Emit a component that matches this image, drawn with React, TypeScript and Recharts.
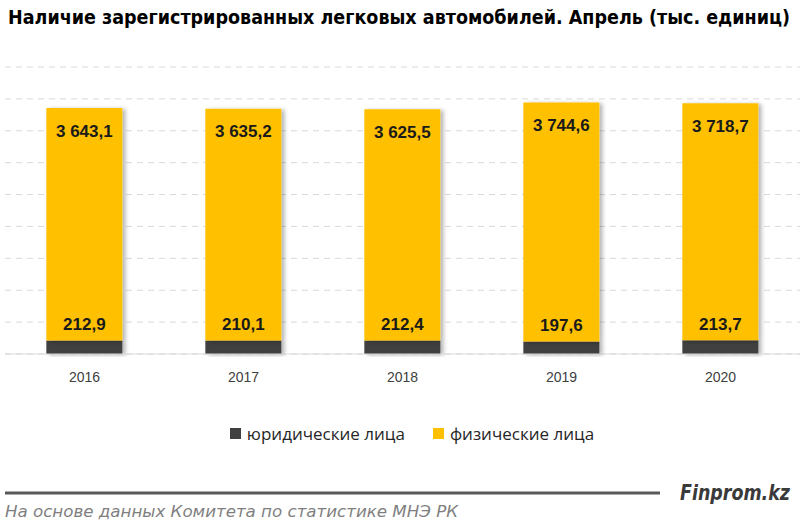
import { BarChart, Bar, XAxis, YAxis, CartesianGrid, LabelList } from "recharts";

// Years on the x axis
const years = ["2016", "2017", "2018", "2019", "2020"];
// Thousand units, April of each year
const legalEntities = [212.9, 210.1, 212.4, 197.6, 213.7];
const individuals = [3643.1, 3635.2, 3625.5, 3744.6, 3718.7];
const yTicks = [0, 500, 1000, 1500, 2000, 2500, 3000, 3500, 4000, 4500];

const DARK = "#404040";
const YELLOW = "#FFC000";
const FONT = "'Liberation Sans', Arial, sans-serif";
const NARROW = "'Liberation Sans Narrow', 'DejaVu Sans Condensed', sans-serif";

const data = years.map((year, i) => ({
  year,
  legal: legalEntities[i],
  individual: individuals[i],
}));

// 3643.1 -> "3 643,1"
function fmt(v: number) {
  const [int, dec] = v.toFixed(1).split(".");
  return int.replace(/\B(?=(\d{3})+(?!\d))/g, " ") + "," + dec;
}

// label for the thin dark segment sits just above it, inside the yellow bar
function LegalLabel(props: any) {
  const { x, y, width, value } = props;
  return (
    <text x={x + width / 2} y={y - 16} textAnchor="middle" dominantBaseline="central"
      fontFamily={FONT} fontWeight="bold" fontSize={17} fill="#1a1a1a">
      {fmt(value)}
    </text>
  );
}

function IndividualLabel(props: any) {
  const { x, y, width, value } = props;
  return (
    <text x={x + width / 2} y={y + 23} textAnchor="middle" dominantBaseline="central"
      fontFamily={FONT} fontWeight="bold" fontSize={17} fill="#1a1a1a">
      {fmt(value)}
    </text>
  );
}

const legendItems = [
  { label: "юридические лица", color: DARK },
  { label: "физические лица", color: YELLOW },
];

export default function App() {
  return (
    <div style={{ position: "absolute", left: 0, top: 0, width: 800, height: 527, background: "#fff", overflow: "hidden" }}>
      <svg width={800} height={40} style={{ position: "absolute", left: 0, top: 0 }}>
        <text x={8} y={24} textLength={782} lengthAdjust="spacingAndGlyphs"
          fontFamily={NARROW} fontWeight="bold" fontSize={19} fill="#000">
          Наличие зарегистрированных легковых автомобилей. Апрель (тыс. единиц)
        </text>
      </svg>

      <div style={{ position: "absolute", left: 0, top: 0 }}>
        <BarChart width={800} height={400} data={data} barCategoryGap="26%"
          margin={{ top: 67, right: 0, bottom: 16, left: 5 }}>
          <defs>
            <filter id="barShadow" x="-10%" y="-10%" width="130%" height="130%">
              <feDropShadow dx={3} dy={1} stdDeviation={2} floodColor="#000" floodOpacity={0.3} />
            </filter>
          </defs>
          <CartesianGrid vertical={false} stroke="#d9d9d9" strokeDasharray="6 5" />
          <YAxis hide domain={[0, 4500]} ticks={yTicks} />
          <XAxis dataKey="year" axisLine={{ stroke: "#d9d9d9" }} tickLine={false}
            tick={{ fontFamily: FONT, fontSize: 14, fill: "#404040" }} tickMargin={12} />
          <Bar dataKey="legal" stackId="a" fill={DARK} isAnimationActive={false} style={{ filter: "url(#barShadow)" }}>
            <LabelList dataKey="legal" content={<LegalLabel />} />
          </Bar>
          <Bar dataKey="individual" stackId="a" fill={YELLOW} isAnimationActive={false} style={{ filter: "url(#barShadow)" }}>
            <LabelList dataKey="individual" content={<IndividualLabel />} />
          </Bar>
        </BarChart>
      </div>

      <div style={{ position: "absolute", left: 12, top: 422, width: 800, display: "flex", justifyContent: "center", gap: 28,
        fontFamily: "'Open Sans', sans-serif", fontSize: 17, color: "#262626" }}>
        {legendItems.map((it) => (
          <div key={it.label} style={{ display: "flex", alignItems: "center", gap: 6 }}>
            <span style={{ width: 11, height: 11, background: it.color, display: "inline-block" }} />
            <span>{it.label}</span>
          </div>
        ))}
      </div>

      <svg width={800} height={60} style={{ position: "absolute", left: 0, top: 470 }}>
        <line x1={5} x2={660} y1={23} y2={23} stroke="#595959" strokeWidth={3} />
        <text x={680} y={30} textLength={110} lengthAdjust="spacingAndGlyphs"
          fontFamily={NARROW} fontStyle="italic" fontWeight="bold" fontSize={21} fill="#3a3a3a">
          Finprom.kz
        </text>
        <text x={5} y={47} textLength={453} lengthAdjust="spacingAndGlyphs"
          fontFamily={NARROW} fontStyle="italic" fontSize={16} fill="#7f7f7f">
          На основе данных  Комитета по статистике МНЭ РК
        </text>
      </svg>
    </div>
  );
}
